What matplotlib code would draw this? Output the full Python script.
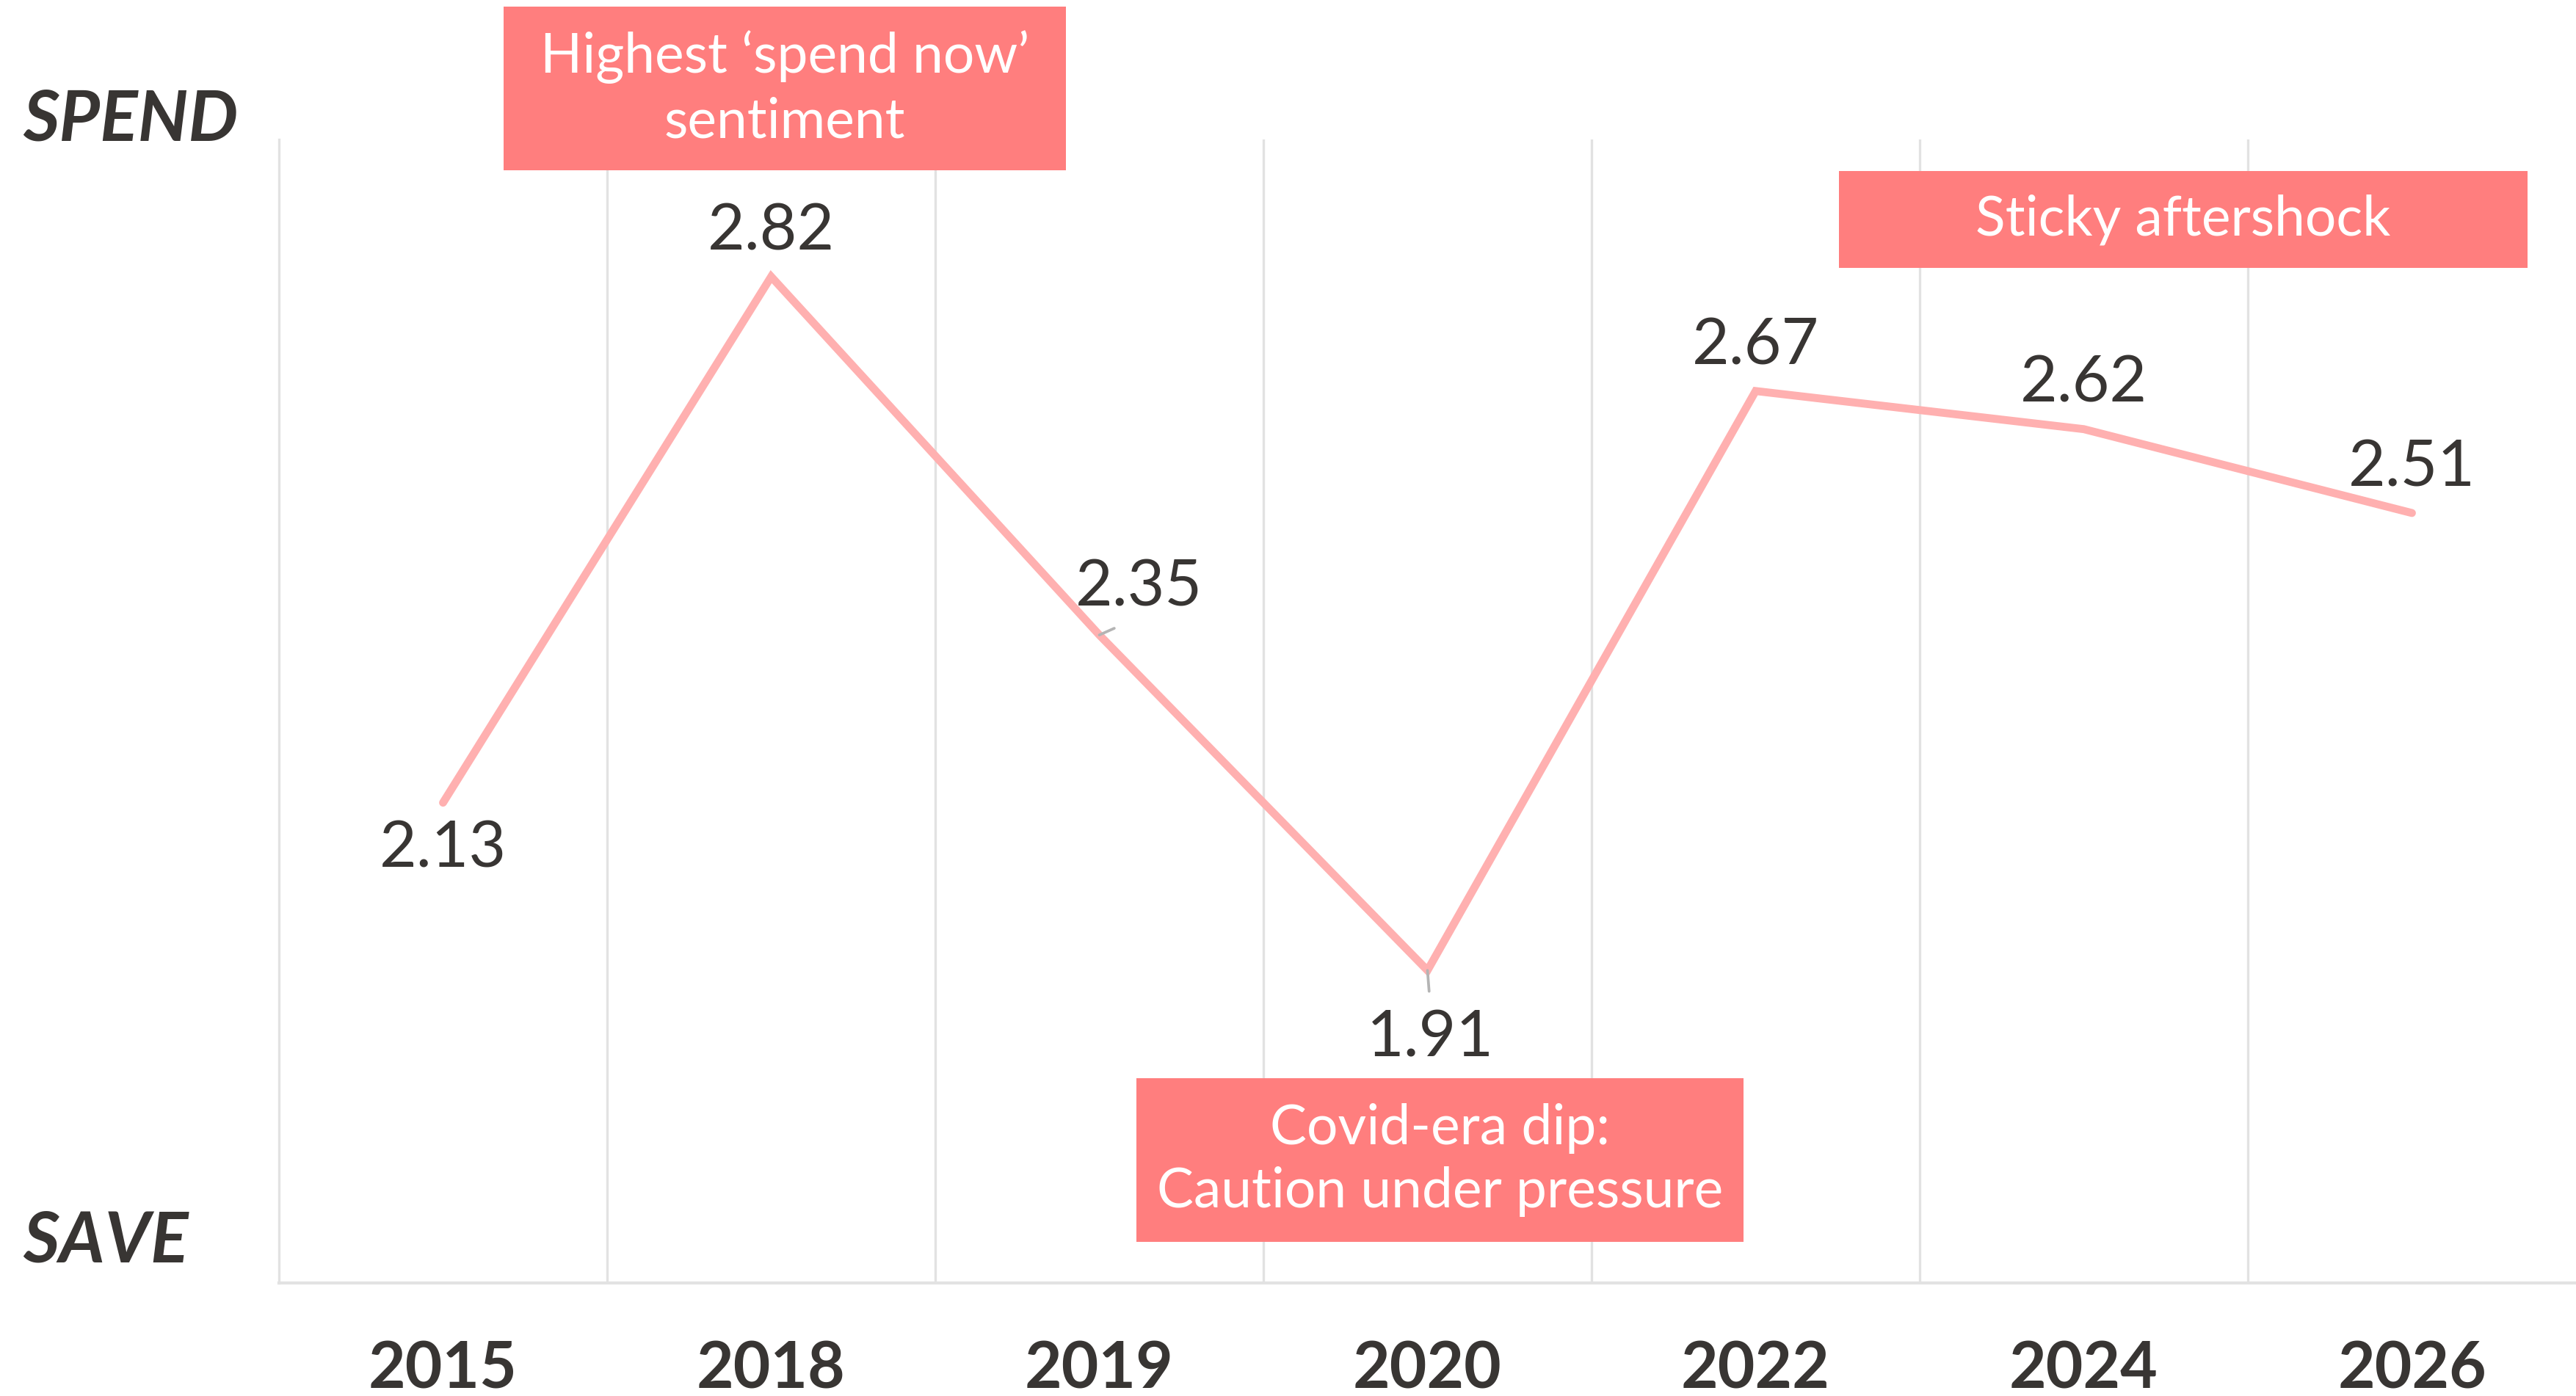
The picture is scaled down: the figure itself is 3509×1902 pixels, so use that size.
import matplotlib
matplotlib.use("Agg")
import matplotlib.pyplot as plt
from matplotlib.patches import Rectangle
import numpy as np

plt.rcParams['font.family'] = ['Lato', 'DejaVu Sans']

# ---- data ----
years = ["2015", "2018", "2019", "2020", "2022", "2024", "2026"]
values = [2.13, 2.82, 2.35, 1.91, 2.67, 2.62, 2.51]
value_labels = ["2.13", "2.82", "2.35", "1.91", "2.67", "2.62", "2.51"]
# label offsets in points (dx, dy)
label_offsets = [(0, -15.3), (0, 14.7), (13, 15.3), (1, -22.3), (0, 14.7), (0, 14.7), (0, 14.7)]
leader = [False, False, True, True, False, False, False]

W, H = 3509, 1902
DPI = 300
fig = plt.figure(figsize=(W / DPI, H / DPI), dpi=DPI)
fig.patch.set_facecolor("white")

ax_left, ax_right, ax_top, ax_bottom = 380, 3509, 190, 1748
ax = fig.add_axes([ax_left / W, 1 - ax_bottom / H, (ax_right - ax_left) / W, (ax_bottom - ax_top) / H])

n = len(years)
x = np.arange(n) + 0.5
ax.set_xlim(0, n)
ax.set_ylim(1.5, 3.0)

grid_c = "#E2E2E2"
ax.set_xticks(x)
ax.set_xticklabels(years, fontsize=21, fontweight="bold", color="#383533")
ax.set_xticks(np.arange(1, n), minor=True)
ax.grid(axis="x", which="minor", color=grid_c, lw=0.8)
ax.tick_params(axis="x", which="both", length=0, pad=18.5)
ax.set_yticks([])
for s in ["top", "right"]:
    ax.spines[s].set_visible(False)
ax.spines["left"].set_color(grid_c)
ax.spines["bottom"].set_color(grid_c)
ax.spines["left"].set_linewidth(0.8)
ax.spines["bottom"].set_linewidth(1.0)

ax.plot(x, values, color="#FFB0B0", lw=2.6, solid_capstyle="round", solid_joinstyle="miter", zorder=3)

text_c = "#383533"
for xi, v, lab, off, ld in zip(x, values, value_labels, label_offsets, leader):
    if ld:
        ax.annotate(lab, xy=(xi, v), xytext=off, textcoords="offset points",
                    ha="center", va="center", fontsize=21, color=text_c,
                    arrowprops=dict(arrowstyle="-", color="#B4B4B4", lw=0.9,
                                    shrinkA=4, shrinkB=0,
                                    relpos=(0.5, 0.0) if off[1] > 0 else (0.5, 1.0)),
                    zorder=4)
    else:
        ax.annotate(lab, xy=(xi, v), xytext=off, textcoords="offset points",
                    ha="center", va="center", fontsize=21, color=text_c, zorder=4)

# ---- annotation boxes ----
box_c = "#FF7E7E"
def box(x0, y0, x1, y1, text, fs=18):
    r = Rectangle((x0 / W, 1 - y1 / H), (x1 - x0) / W, (y1 - y0) / H,
                  transform=fig.transFigure, facecolor=box_c, edgecolor="none", zorder=5)
    fig.patches.append(r)
    fig.text((x0 + x1) / 2 / W, 1 - (y0 + y1) / 2 / H, text, ha="center", va="center",
             fontsize=fs, color="white", linespacing=1.32, zorder=6)

box(686, 9, 1452, 232, "Highest \u2018spend now\u2019\nsentiment")
box(2505, 233, 3443, 365, "Sticky aftershock")
box(1548, 1469, 2375, 1692, "Covid-era dip:\nCaution under pressure")

# ---- SPEND / SAVE ----
fig.text(31 / W, 1 - 164 / H, "SPEND", ha="left", va="center", fontsize=23,
         fontweight="bold", fontstyle="italic", color=text_c)
fig.text(31 / W, 1 - 1692 / H, "SAVE", ha="left", va="center", fontsize=23,
         fontweight="bold", fontstyle="italic", color=text_c)

fig.savefig("out.png", dpi=DPI, facecolor="white")
